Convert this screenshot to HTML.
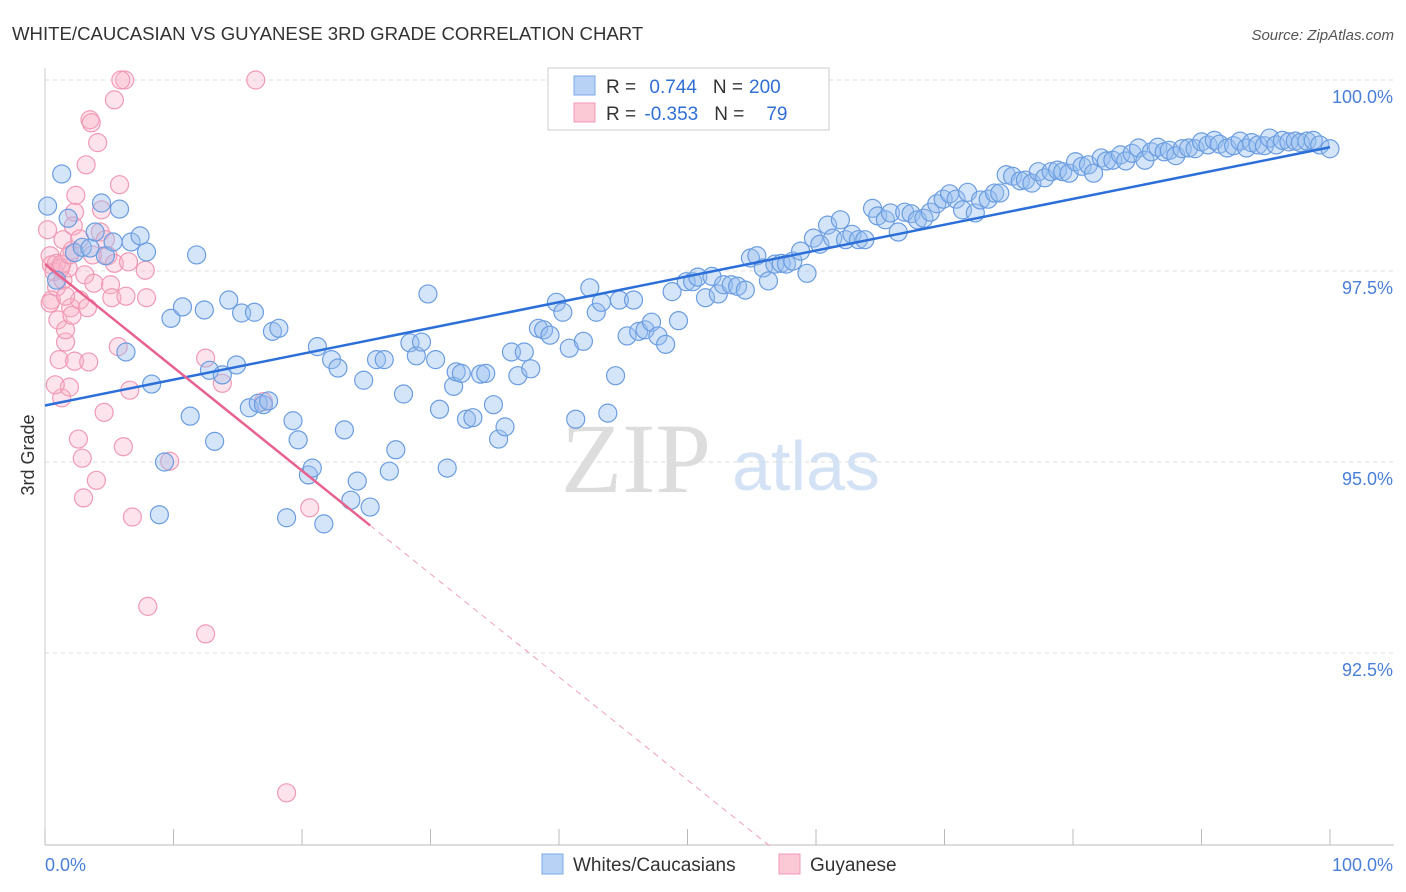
<!DOCTYPE html>
<html><head><meta charset="utf-8">
<style>
body{margin:0;background:#fff;font-family:"Liberation Sans",sans-serif;}
#wrap{position:relative;width:1406px;height:892px;overflow:hidden;}
</style></head>
<body>
<div id="wrap">
<svg id="svg" width="1406" height="892" xmlns="http://www.w3.org/2000/svg">
<text x="12" y="40" font-size="18.6" fill="#333">WHITE/CAUCASIAN VS GUYANESE 3RD GRADE CORRELATION CHART</text>
<text x="1394" y="40" font-size="15" fill="#555" font-style="italic" text-anchor="end">Source: ZipAtlas.com</text>
<text x="636" y="492" font-size="100" fill="#ddd" font-family="Liberation Serif,serif" text-anchor="middle">ZIP</text>
<text x="806" y="490" font-size="70" fill="#d4e2f5" text-anchor="middle">atlas</text>
<text transform="translate(34,455) rotate(-90)" font-size="18" fill="#333" text-anchor="middle">3rd Grade</text>
<g id="grid"></g><g id="axes"></g><g id="pts"></g><g id="lines"></g>
<g>
<rect x="548" y="68" width="281" height="62" fill="#fff" stroke="#ccc"/>
<rect x="574" y="76" width="21" height="19" fill="#b8d2f5" stroke="#7aaae6"/>
<rect x="574" y="103" width="21" height="19" fill="#fbc8d6" stroke="#f09ab5"/>
<text x="606" y="93" font-size="19" fill="#333">R = <tspan fill="#2f6fd6" dx="8">0.744</tspan><tspan fill="#333" dx="16">N =</tspan><tspan fill="#2f6fd6" dx="6">200</tspan></text>
<text x="606" y="120" font-size="19" fill="#333">R = <tspan fill="#2f6fd6" dx="3">-0.353</tspan><tspan fill="#333" dx="16">N =</tspan><tspan fill="#2f6fd6" dx="22">79</tspan></text>
</g>
<g>
<rect x="542" y="854" width="21" height="20" fill="#b8d2f5" stroke="#7aaae6"/>
<text x="573" y="871" font-size="19" fill="#333">Whites/Caucasians</text>
<rect x="779" y="854" width="21" height="20" fill="#fbc8d6" stroke="#f09ab5"/>
<text x="810" y="871" font-size="19" fill="#333">Guyanese</text>
</g>
</svg>
</div>
<script>
const yTicks=[100,97.5,95,92.5];
const yTickLabels=["100.0%","97.5%","95.0%","92.5%"];
const xTickVals=[0,10,20,30,40,50,60,70,80,90,100];
const xEndLabels=["0.0%","100.0%"];
const blueX=[0.2,1.3,1.8,0.9,2.3,2.9,3.5,3.9,4.4,4.7,5.3,5.8,6.3,6.7,7.4,7.9,8.3,8.9,9.3,9.8,10.7,11.3,11.8,12.4,13.2,12.8,13.8,14.3,14.9,15.3,15.9,16.3,16.6,17.0,17.4,17.7,18.2,18.8,19.3,19.7,20.5,20.8,21.2,21.7,22.3,22.8,23.3,23.8,24.3,24.8,25.3,25.8,26.4,26.8,27.3,27.9,28.4,28.9,29.3,29.8,30.4,30.7,31.3,31.8,32.0,32.4,32.8,33.3,33.9,34.3,34.9,35.3,35.8,36.3,36.8,37.3,37.8,38.4,38.8,39.3,39.8,40.3,40.8,41.3,41.9,42.4,42.9,43.3,43.8,44.4,44.7,45.3,45.8,46.2,46.7,47.2,47.7,48.3,48.8,49.3,49.9,50.4,50.8,51.4,51.9,52.4,52.8,53.4,53.9,54.5,54.9,55.4,55.9,56.3,56.8,57.3,57.7,58.2,58.8,59.3,59.8,60.3,60.9,61.3,61.9,62.3,62.8,63.3,63.8,64.4,64.8,65.4,65.8,66.4,66.9,67.4,67.9,68.4,68.9,69.4,69.9,70.4,70.9,71.4,71.8,72.4,72.8,73.4,73.9,74.3,74.8,75.3,75.9,76.3,76.8,77.3,77.8,78.3,78.8,79.2,79.7,80.2,80.7,81.2,81.6,82.2,82.6,83.1,83.7,84.1,84.6,85.1,85.6,86.1,86.6,87.1,87.5,88.0,88.5,89.0,89.5,90.0,90.5,91.0,91.4,92.0,92.5,93.0,93.5,93.9,94.4,94.9,95.3,95.8,96.3,96.8,97.3,97.7,98.2,98.7,99.2,100.0];
const blueY=[98.35,98.77,98.19,97.38,97.74,97.81,97.80,98.01,98.39,97.70,97.88,98.31,96.44,97.88,97.96,97.75,96.02,94.31,95.00,96.88,97.03,95.60,97.71,96.99,95.27,96.20,96.14,97.12,96.27,96.95,95.71,96.96,95.77,95.75,95.80,96.71,96.75,94.27,95.54,95.29,94.83,94.92,96.51,94.19,96.34,96.23,95.42,94.50,94.75,96.07,94.41,96.34,96.34,94.88,95.16,95.89,96.56,96.39,96.57,97.20,96.34,95.69,94.92,95.99,96.18,96.16,95.56,95.58,96.15,96.16,95.75,95.30,95.46,96.44,96.13,96.44,96.22,96.75,96.73,96.66,97.09,96.96,96.49,95.56,96.58,97.28,96.96,97.09,95.64,96.13,97.12,96.65,97.12,96.71,96.73,96.83,96.65,96.54,97.23,96.85,97.36,97.36,97.42,97.15,97.43,97.20,97.32,97.32,97.30,97.25,97.67,97.70,97.54,97.37,97.59,97.60,97.59,97.63,97.76,97.47,97.93,97.85,98.10,97.93,98.17,97.91,97.98,97.91,97.91,98.32,98.22,98.17,98.26,98.01,98.27,98.25,98.17,98.19,98.27,98.38,98.44,98.51,98.44,98.30,98.53,98.26,98.43,98.44,98.52,98.52,98.76,98.74,98.68,98.69,98.65,98.80,98.72,98.80,98.82,98.80,98.78,98.93,98.87,98.89,98.78,98.98,98.94,98.95,99.02,98.94,99.04,99.11,98.95,99.06,99.12,99.06,99.08,99.01,99.10,99.11,99.10,99.19,99.15,99.21,99.16,99.11,99.14,99.20,99.11,99.18,99.15,99.14,99.24,99.15,99.21,99.19,99.20,99.18,99.20,99.21,99.15,99.10];
const pinkX=[0.2,0.4,0.5,0.7,0.9,1.0,1.1,1.3,1.4,1.6,1.6,1.8,1.9,2.0,2.1,2.3,2.3,2.4,2.6,2.7,2.9,3.0,3.1,3.3,3.4,3.5,3.7,3.8,4.0,4.1,4.3,4.4,4.6,4.7,4.9,5.1,5.2,5.4,5.7,5.8,6.1,6.2,6.3,6.5,6.6,6.8,7.8,7.9,8.0,9.7,12.5,12.5,13.8,16.4,17.0,18.8,20.6,0.9,1.2,1.4,0.8,0.5,1.6,5.4,3.6,3.2,2.2,2.7,1.3,2.1,0.4,1.9,5.9];
const pinkY=[98.04,97.70,97.58,97.49,97.29,96.86,96.34,95.84,97.38,96.57,96.73,97.54,95.98,97.02,97.77,98.27,96.32,98.49,95.30,97.12,95.05,94.53,97.45,97.02,96.31,99.48,97.71,97.34,94.76,99.18,98.01,98.30,95.65,97.91,97.70,97.32,97.15,97.60,96.51,98.63,95.20,100.0,97.17,97.62,95.94,94.28,97.51,97.15,93.11,95.01,92.75,96.36,96.03,100.0,95.79,90.67,94.40,97.60,97.54,97.91,96.01,97.12,97.17,99.74,99.44,98.89,98.09,97.92,97.59,96.92,97.08,97.71,100.0];
const blueTrend=[[0,95.74],[100,99.12]];
const pinkTrend=[[0,97.59],[25.3,94.17]];
const pinkTrendExt=[[25.3,94.17],[56.5,89.96]];

const X0=45,X1=1330,Y100=80,PXY=76.4;
const sx=v=>X0+(X1-X0)*v/100;
const sy=v=>Y100+(100-v)*PXY;
const NS="http://www.w3.org/2000/svg";
function mk(tag,attrs,parent){const e=document.createElementNS(NS,tag);for(const k in attrs)e.setAttribute(k,attrs[k]);document.getElementById(parent).appendChild(e);return e;}

yTicks.forEach((t,i)=>{
  const g=mk('line',{x1:X0,x2:1394,y1:sy(t),y2:sy(t),stroke:'#ddd','stroke-dasharray':'4,4'},'grid');
  
  
  const l=mk('text',{x:1393,y:sy(t)+23,'font-size':18,fill:'#4a7fd8','text-anchor':'end'},'axes');
  l.textContent=yTickLabels[i];
  
  
});
const ax=mk('line',{x1:X0,x2:1394,y1:845,y2:845,stroke:'#bbb'},'axes');


const ay=mk('line',{x1:X0,x2:X0,y1:68,y2:845,stroke:'#ccc'},'axes');


xTickVals.forEach(v=>{
  const t=mk('line',{x1:sx(v),x2:sx(v),y1:829,y2:845,stroke:'#bbb'},'axes');
  
  
});
const xl0=mk('text',{x:45,y:871,'font-size':18,fill:'#4a7fd8'},'axes');xl0.textContent=xEndLabels[0];


const xl1=mk('text',{x:1393,y:871,'font-size':18,fill:'#4a7fd8','text-anchor':'end'},'axes');xl1.textContent=xEndLabels[1];



pinkX.forEach((v,i)=>{
  const c=mk('circle',{cx:sx(v),cy:sy(pinkY[i]),r:9,fill:'rgba(248,178,200,0.35)',stroke:'#f09ab5','stroke-width':1.2},'pts');
  
  
});
blueX.forEach((v,i)=>{
  const c=mk('circle',{cx:sx(v),cy:sy(blueY[i]),r:9,fill:'rgba(150,190,240,0.4)',stroke:'#6b9de0','stroke-width':1.2},'pts');
  
  
});
const bl=mk('line',{x1:sx(blueTrend[0][0]),y1:sy(blueTrend[0][1]),x2:sx(blueTrend[1][0]),y2:sy(blueTrend[1][1]),stroke:'#2c6fd8','stroke-width':2.5},'lines');


const pl=mk('line',{x1:sx(pinkTrend[0][0]),y1:sy(pinkTrend[0][1]),x2:sx(pinkTrend[1][0]),y2:sy(pinkTrend[1][1]),stroke:'#e8628e','stroke-width':2.5},'lines');


const pe=mk('line',{x1:sx(pinkTrendExt[0][0]),y1:sy(pinkTrendExt[0][1]),x2:sx(pinkTrendExt[1][0]),y2:sy(pinkTrendExt[1][1]),stroke:'#f0a0b8','stroke-width':1,'stroke-dasharray':'6,5'},'lines');


</script>
</body></html>
